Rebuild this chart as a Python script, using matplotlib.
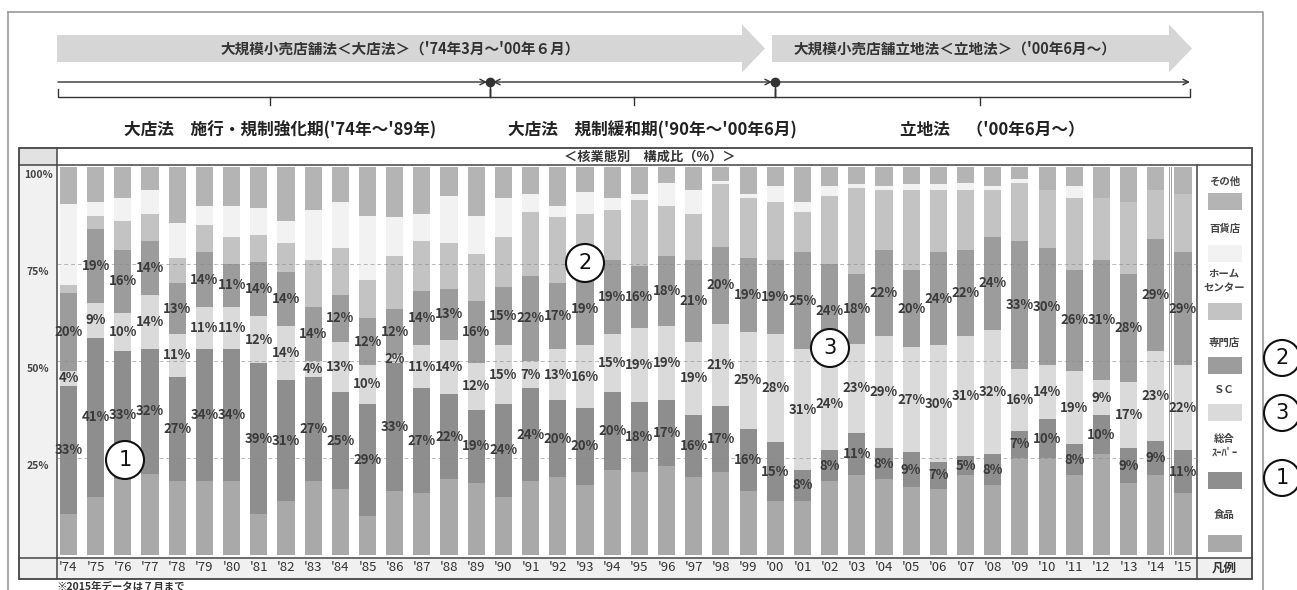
import numpy as np
import matplotlib
matplotlib.use('Agg')
import matplotlib.pyplot as plt
from matplotlib.patches import FancyArrow, Rectangle, Circle

plt.rcParams['font.family'] = ['Noto Sans CJK JP', 'DejaVu Sans']

# ---- data (構成比 %) ----
years = ["'74", "'75", "'76", "'77", "'78", "'79", "'80", "'81", "'82", "'83", "'84",
         "'85", "'86", "'87", "'88", "'89", "'90", "'91", "'92", "'93", "'94", "'95",
         "'96", "'97", "'98", "'99", "'00", "'01", "'02", "'03", "'04", "'05", "'06",
         "'07", "'08", "'09", "'10", "'11", "'12", "'13", "'14", "'15"]
food = [10.5, 15, 19.5, 21, 19, 19, 19, 10.5, 14, 19, 17, 10, 16.5, 16, 19.5, 18.5,
        15, 19, 20, 18, 22, 21.5, 23, 20, 21.5, 16.5, 14, 14, 19, 20.5, 19.5, 17.5,
        17, 20.5, 18, 25, 25, 20.5, 26, 18.5, 20.5, 16]
gms = [33, 41, 33, 32, 27, 34, 34, 39, 31, 27, 25, 29, 33, 27, 22, 19, 24, 24, 20, 20,
       20, 18, 17, 16, 17, 16, 15, 8, 8, 11, 8, 9, 7, 5, 8, 7, 10, 8, 10, 9, 9, 11]
sc = [4, 9, 10, 14, 11, 11, 11, 12, 14, 4, 13, 10, 2, 11, 14, 12, 15, 7, 13, 16, 15,
      19, 19, 19, 21, 25, 28, 31, 24, 23, 29, 27, 30, 31, 32, 16, 14, 19, 9, 17, 23, 22]
spec = [20, 19, 16, 14, 13, 14, 11, 14, 14, 14, 12, 12, 12, 14, 13, 16, 15, 22, 17, 19,
        19, 16, 18, 21, 20, 19, 19, 25, 24, 18, 22, 20, 24, 22, 24, 33, 30, 26, 31, 28, 29, 29]
home = [2, 3.5, 7.5, 7, 6.5, 7, 7, 7, 7.5, 12, 12, 10, 13.5, 13, 12, 12, 13, 16.5, 17,
        15, 13, 17, 13, 12, 16, 15.5, 15, 10.5, 17.5, 22, 15.5, 20.5, 16, 15.5, 12, 15,
        15, 18.5, 16, 18.5, 12.5, 15]
dept = [21, 3.5, 6, 6, 9, 5, 8, 7, 5.5, 13, 12, 16.5, 10, 7, 12, 10, 10, 4.5, 3, 5.5,
        3, 1.5, 6, 6, 1, 1, 4, 2.5, 2.5, 1, 1, 1.5, 1.5, 2, 1, 1, 0, 3, 0, 0, 0, 0]
other = [9.5, 9, 8, 6, 14.5, 10, 10, 10.5, 14, 11, 9, 12.5, 13, 12, 7.5, 12.5, 8, 7, 10,
         6.5, 8, 7, 4, 6, 3.5, 7, 5, 9, 5, 4.5, 5, 4.5, 4.5, 4, 5, 3, 6, 5, 8, 9, 6, 7]

cat_names = ['食品', '総合\nｽｰﾊﾟｰ', 'ＳＣ', '専門店', 'ホーム\nセンター', '百貨店', 'その他']
cat_colors = ['#a9a9a9', '#8e8e8e', '#dadada', '#9c9c9c', '#c3c3c3', '#f2f2f2', '#b4b4b4']
labelled = [False, True, True, True, False, False, False]

W, H = 1297, 590
fig = plt.figure(figsize=(W / 100, H / 100), dpi=100)

# 背景レイヤー（ピクセル座標）
ov = fig.add_axes([0, 0, 1, 1])
ov.set_xlim(0, W)
ov.set_ylim(H, 0)
ov.axis('off')

# 外枠
ov.plot([8, 1263, 1263], [12, 12, H], color='#9a9a9a', lw=1.2)
ov.plot([8, 8], [12, H], color='#9a9a9a', lw=1.2)

# 上部の帯矢印
ov.add_patch(FancyArrow(57, 48.5, 708, 0, width=27, head_width=48, head_length=23,
                        length_includes_head=True, color='#d6d6d6', lw=0))
ov.add_patch(FancyArrow(772, 48.5, 420, 0, width=27, head_width=48, head_length=23,
                        length_includes_head=True, color='#d6d6d6', lw=0))
ov.text(400, 48.5, "大規模小売店舗法＜大店法＞（'74年3月～'00年６月）", ha='center', va='center',
        fontsize=10.5, fontweight='bold', color='#333')
ov.text(955, 48.5, "大規模小売店舗立地法＜立地法＞（'00年6月～）", ha='center', va='center',
        fontsize=10.5, fontweight='bold', color='#333')

# 線矢印
ap = dict(lw=1.0, color='#333', shrinkA=0, shrinkB=0, mutation_scale=10)
ov.annotate('', xy=(487, 82), xytext=(58, 82), arrowprops=dict(arrowstyle='->', **ap))
ov.annotate('', xy=(772, 82), xytext=(493, 82), arrowprops=dict(arrowstyle='<->', **ap))
ov.annotate('', xy=(1190, 82), xytext=(778, 82), arrowprops=dict(arrowstyle='->', **ap))
ov.plot([490, 775], [82, 82], 'o', ms=6, color='#333')

# 中括弧
for x0, xc, x1 in [(58, 270, 490), (490, 634, 775), (775, 980, 1190)]:
    ov.plot([x0, x0, x1, x1], [89, 97, 97, 89], color='#333', lw=1.0)
    ov.plot([xc, xc], [97, 105], color='#333', lw=1.0)
ov.plot([490, 490], [82, 97], color='#333', lw=1.0)
ov.plot([775, 775], [82, 97], color='#333', lw=1.0)

ov.text(280, 130, "大店法　施行・規制強化期('74年～'89年)", ha='center', va='center',
        fontsize=12, fontweight='bold', color='#222')
ov.text(652, 130, "大店法　規制緩和期('90年～'00年6月)", ha='center', va='center',
        fontsize=12, fontweight='bold', color='#222')
ov.text(992, 130, "立地法　（'00年6月～）", ha='center', va='center',
        fontsize=12, fontweight='bold', color='#222')

# 表の枠
ov.add_patch(Rectangle((19, 148), 38, 431, facecolor='#f1f1f1', edgecolor='none'))
ov.add_patch(Rectangle((19, 148), 38, 17, facecolor='#e2e2e2', edgecolor='none'))
ov.add_patch(Rectangle((19, 558), 1233, 21, facecolor='#f0f0f0', edgecolor='none'))
ov.add_patch(Rectangle((19, 148), 1233, 431, facecolor='none', edgecolor='#444', lw=1.3))
ov.plot([57, 57], [148, 579], color='#444', lw=1.1)
ov.plot([1197, 1197], [165, 579], color='#444', lw=1.1)
ov.plot([19, 1252], [165, 165], color='#444', lw=1.1)
ov.plot([19, 1252], [558, 558], color='#444', lw=1.1)
ov.text(650, 157, '＜核業態別　構成比（%）＞', ha='center', va='center',
        fontsize=9.5, fontweight='bold', color='#333')
ov.text(1224.5, 568.5, '凡例', ha='center', va='center', fontsize=9,
        fontweight='bold', color='#333')
ov.text(56, 587, '※2015年データは７月まで', ha='left', va='center', fontsize=7.5,
        fontweight='bold', color='#333')

# 凡例
legend_rows = [(6, 182, 193), (5, 229, 245), (4, 281, 303), (3, 343, 357),
               (2, 390, 404), (1, 446, 472), (0, 515, 535)]
for k, ty, sy in legend_rows:
    ov.text(1224.5, ty, cat_names[k], ha='center', va='center', fontsize=7.5,
            fontweight='bold', color='#444', linespacing=1.5)
    ov.add_patch(Rectangle((1208, sy), 34, 17, facecolor=cat_colors[k], edgecolor='none'))

# ---- 積み上げ棒 ----
ax = fig.add_axes([57 / W, 1 - 555 / H, (1197 - 57) / W, (555 - 167) / H])
ax.patch.set_alpha(0)
x = np.arange(len(years))
series = [food, gms, sc, spec, home, dept, other]
bottom = np.zeros(len(years))
for k, vals in enumerate(series):
    vals = np.array(vals, dtype=float)
    ax.bar(x, vals, 0.63, bottom=bottom, color=cat_colors[k], linewidth=0, zorder=2)
    if labelled[k]:
        for i in range(len(years)):
            ax.text(x[i], bottom[i] + vals[i] / 2, f'{vals[i]:.0f}%', ha='center', va='center',
                    fontsize=9.5, fontweight='bold', color='#3a3a3a', zorder=5)
    bottom += vals

for v in (25, 50, 75):
    ax.axhline(v, color='#8a8a8a', lw=0.7, ls=(0, (4, 3)), alpha=0.6, zorder=3)
for v in (100, 75, 50, 25):
    ax.text(-1.12, v - 2, f'{v}%', ha='center', va='center', fontsize=7.5,
            fontweight='bold', color='#444', clip_on=False)
ax.axvline(40.47, color='#a0a0a0', lw=0.7, zorder=3)
ax.axvline(40.56, color='#a0a0a0', lw=0.7, zorder=3)

ax.set_xlim(-0.423, 41.515)
ax.set_ylim(0, 100)
ax.set_xticks(x, years)
ax.set_yticks([])
ax.tick_params(axis='x', length=0, pad=4.5, labelsize=9.5, labelcolor='#333')
for s in ax.spines.values():
    s.set_visible(False)

# ---- 丸数字（最前面） ----
top = fig.add_axes([0, 0, 1, 1])
top.set_xlim(0, W)
top.set_ylim(H, 0)
top.axis('off')
top.patch.set_alpha(0)
marks = [('1', 125, 460, 19), ('2', 585, 263, 19), ('3', 830, 348, 19),
         ('2', 1282, 358, 18), ('3', 1282, 413, 18), ('1', 1282, 478, 18)]
for t, cx, cy, r in marks:
    top.add_patch(Circle((cx, cy), r, facecolor='white', edgecolor='#111', lw=1.5))
    top.text(cx, cy, t, ha='center', va='center', fontsize=15, family='DejaVu Sans',
             color='#111')

fig.savefig('out.png', dpi=100)
